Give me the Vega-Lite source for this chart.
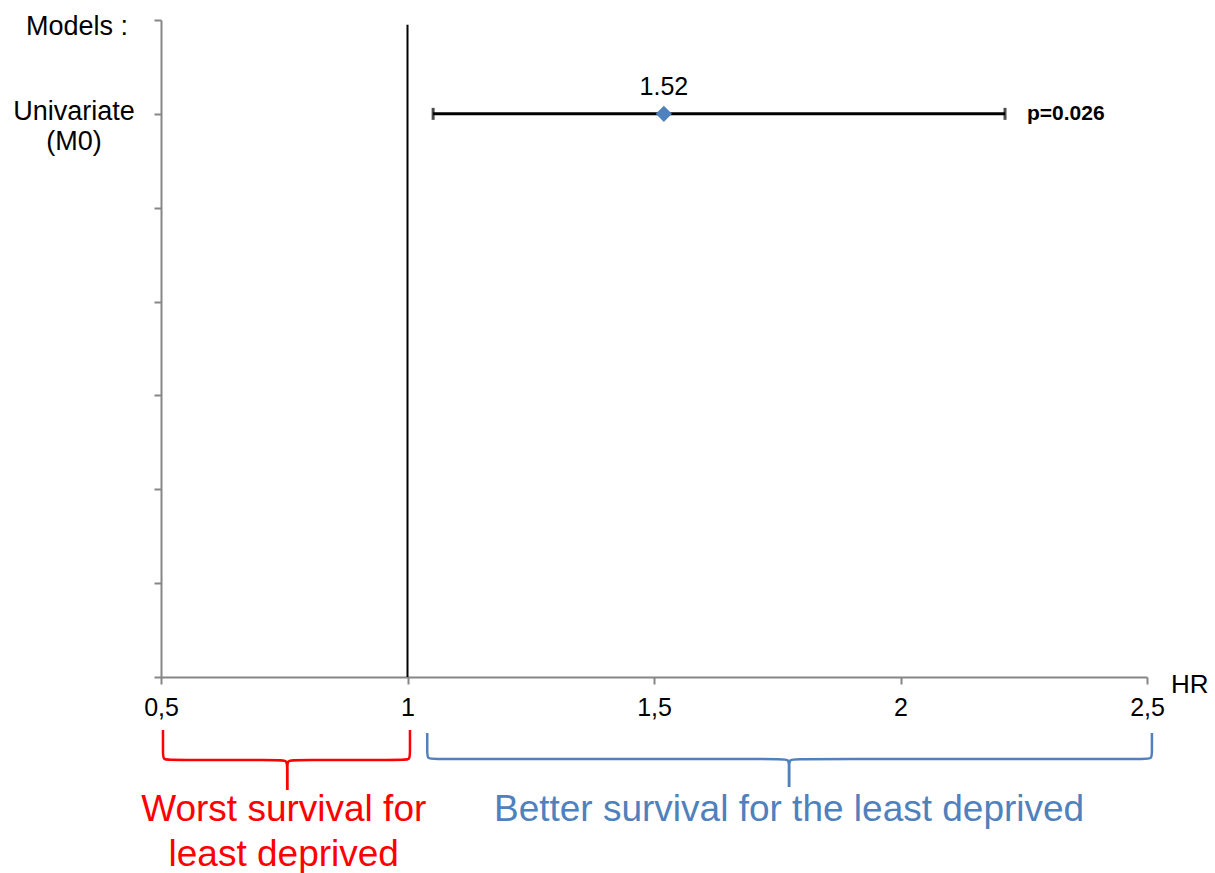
{
  "$schema": "https://vega.github.io/schema/vega-lite/v6.json",
  "width": 986,
  "height": 657,
  "autosize": {"type": "none"},
  "padding": {"left": 161, "top": 20, "right": 68, "bottom": 196},
  "background": "white",
  "config": {"view": {"stroke": null}, "font": "Liberation Sans"},
  "datasets": {
    "refline": [{"x": 1, "y0": 0, "y1": 6.95}],
    "forest": [{"model": "Univariate (M0)", "pos": 6, "hr": 1.52, "lo": 1.052, "hi": 2.212, "hrLabel": "1.52", "p": "p=0.026"}],
    "ylabels": [
      {"x": 0.3296, "y": 6.925, "t": "Models :"},
      {"x": 0.3235, "y": 6.02, "t": "Univariate"},
      {"x": 0.3235, "y": 5.70, "t": "(M0)"}
    ],
    "hr": [{"x": 2.5, "y": -0.09, "t": "HR"}],
    "braces": [
      {"side": "worst", "seg": "wl", "i": 1, "x": 0.504, "y": -0.565},
      {"side": "worst", "seg": "wl", "i": 2, "x": 0.504, "y": -0.810},
      {"side": "worst", "seg": "wl", "i": 3, "x": 0.504, "y": -0.884},
      {"side": "worst", "seg": "wl", "i": 4, "x": 0.520, "y": -0.884},
      {"side": "worst", "seg": "wl", "i": 5, "x": 0.739, "y": -0.884},
      {"side": "worst", "seg": "wl", "i": 6, "x": 0.756, "y": -0.884},
      {"side": "worst", "seg": "wl", "i": 7, "x": 0.756, "y": -0.970},
      {"side": "worst", "seg": "wl", "i": 8, "x": 0.756, "y": -1.204},
      {"side": "worst", "seg": "wr", "i": 1, "x": 0.756, "y": -1.204},
      {"side": "worst", "seg": "wr", "i": 2, "x": 0.756, "y": -0.970},
      {"side": "worst", "seg": "wr", "i": 3, "x": 0.756, "y": -0.884},
      {"side": "worst", "seg": "wr", "i": 4, "x": 0.772, "y": -0.884},
      {"side": "worst", "seg": "wr", "i": 5, "x": 0.989, "y": -0.884},
      {"side": "worst", "seg": "wr", "i": 6, "x": 1.005, "y": -0.884},
      {"side": "worst", "seg": "wr", "i": 7, "x": 1.005, "y": -0.810},
      {"side": "worst", "seg": "wr", "i": 8, "x": 1.005, "y": -0.565},
      {"side": "better", "seg": "bl", "i": 1, "x": 1.040, "y": -0.597},
      {"side": "better", "seg": "bl", "i": 2, "x": 1.040, "y": -0.799},
      {"side": "better", "seg": "bl", "i": 3, "x": 1.040, "y": -0.874},
      {"side": "better", "seg": "bl", "i": 4, "x": 1.056, "y": -0.874},
      {"side": "better", "seg": "bl", "i": 5, "x": 1.758, "y": -0.874},
      {"side": "better", "seg": "bl", "i": 6, "x": 1.774, "y": -0.874},
      {"side": "better", "seg": "bl", "i": 7, "x": 1.774, "y": -0.959},
      {"side": "better", "seg": "bl", "i": 8, "x": 1.774, "y": -1.172},
      {"side": "better", "seg": "br", "i": 1, "x": 1.774, "y": -1.172},
      {"side": "better", "seg": "br", "i": 2, "x": 1.774, "y": -0.959},
      {"side": "better", "seg": "br", "i": 3, "x": 1.774, "y": -0.874},
      {"side": "better", "seg": "br", "i": 4, "x": 1.790, "y": -0.874},
      {"side": "better", "seg": "br", "i": 5, "x": 2.494, "y": -0.874},
      {"side": "better", "seg": "br", "i": 6, "x": 2.510, "y": -0.874},
      {"side": "better", "seg": "br", "i": 7, "x": 2.510, "y": -0.799},
      {"side": "better", "seg": "br", "i": 8, "x": 2.510, "y": -0.597}
    ],
    "notes": [
      {"side": "worst", "x": 0.749, "y": -1.42, "t": "Worst survival for"},
      {"side": "worst", "x": 0.749, "y": -1.90, "t": "least deprived"},
      {"side": "better", "x": 1.774, "y": -1.42, "t": "Better survival for the least deprived"}
    ]
  },
  "layer": [
    {
      "data": {"name": "refline"},
      "mark": {"type": "rule", "color": "black", "strokeWidth": 2},
      "encoding": {
        "x": {
          "field": "x", "type": "quantitative", "title": null,
          "scale": {"domain": [0.5, 2.5], "nice": false, "zero": false},
          "axis": {
            "title": null, "values": [0.5, 1, 1.5, 2, 2.5], "grid": false,
            "domainColor": "#868686", "domainWidth": 2, "tickColor": "#868686", "tickWidth": 2, "tickSize": 7,
            "labelFontSize": 25, "labelColor": "black", "labelFont": "Liberation Sans", "labelPadding": 11,
            "labelFlush": false, "labelOverlap": false,
            "labelExpr": "replace(format(datum.value, '~g'), '.', ',')"
          }
        },
        "y": {
          "field": "y0", "type": "quantitative", "title": null,
          "scale": {"domain": [0, 7], "nice": false, "zero": false},
          "axis": {
            "title": null, "values": [0, 1, 2, 3, 4, 5, 6, 7], "grid": false, "labels": false,
            "domainColor": "#868686", "domainWidth": 2, "tickColor": "#868686", "tickWidth": 2, "tickSize": 7
          }
        },
        "y2": {"field": "y1"}
      }
    },
    {
      "data": {"name": "braces"},
      "mark": {"type": "line", "interpolate": "basis", "strokeWidth": 2.5},
      "encoding": {
        "x": {"field": "x", "type": "quantitative", "title": null},
        "y": {"field": "y", "type": "quantitative", "title": null},
        "detail": {"field": "seg"},
        "order": {"field": "i", "type": "quantitative"},
        "color": {"field": "side", "type": "nominal", "scale": {"domain": ["worst", "better"], "range": ["#FF0000", "#4F81BD"]}, "legend": null}
      }
    },
    {
      "data": {"name": "notes"},
      "mark": {"type": "text", "fontSize": 37, "align": "center", "baseline": "middle", "font": "Liberation Sans"},
      "encoding": {
        "x": {"field": "x", "type": "quantitative", "title": null},
        "y": {"field": "y", "type": "quantitative", "title": null},
        "text": {"field": "t"},
        "color": {"field": "side", "type": "nominal", "scale": {"domain": ["worst", "better"], "range": ["#FF0000", "#4F81BD"]}, "legend": null}
      }
    },
    {
      "data": {"name": "forest"},
      "mark": {"type": "rule", "color": "black", "strokeWidth": 3},
      "encoding": {
        "x": {"field": "lo", "type": "quantitative", "title": null},
        "x2": {"field": "hi"},
        "y": {"field": "pos", "type": "quantitative", "title": null}
      }
    },
    {
      "data": {"name": "forest"},
      "mark": {"type": "tick", "color": "black", "orient": "vertical", "size": 12, "thickness": 3},
      "encoding": {
        "x": {"field": "lo", "type": "quantitative", "title": null},
        "y": {"field": "pos", "type": "quantitative", "title": null}
      }
    },
    {
      "data": {"name": "forest"},
      "mark": {"type": "tick", "color": "black", "orient": "vertical", "size": 12, "thickness": 3},
      "encoding": {
        "x": {"field": "hi", "type": "quantitative", "title": null},
        "y": {"field": "pos", "type": "quantitative", "title": null}
      }
    },
    {
      "data": {"name": "forest"},
      "mark": {"type": "point", "shape": "diamond", "filled": true, "color": "#4F81BD", "size": 260, "opacity": 1},
      "encoding": {
        "x": {"field": "hr", "type": "quantitative", "title": null},
        "y": {"field": "pos", "type": "quantitative", "title": null}
      }
    },
    {
      "data": {"name": "forest"},
      "mark": {"type": "text", "fontSize": 25, "align": "center", "baseline": "middle", "dy": -27, "color": "black"},
      "encoding": {
        "x": {"field": "hr", "type": "quantitative", "title": null},
        "y": {"field": "pos", "type": "quantitative", "title": null},
        "text": {"field": "hrLabel"}
      }
    },
    {
      "data": {"name": "forest"},
      "mark": {"type": "text", "fontSize": 21, "fontWeight": "bold", "align": "left", "baseline": "middle", "dx": 22, "color": "black"},
      "encoding": {
        "x": {"field": "hi", "type": "quantitative", "title": null},
        "y": {"field": "pos", "type": "quantitative", "title": null},
        "text": {"field": "p"}
      }
    },
    {
      "data": {"name": "ylabels"},
      "mark": {"type": "text", "fontSize": 27, "align": "center", "baseline": "middle", "color": "black"},
      "encoding": {
        "x": {"field": "x", "type": "quantitative", "title": null},
        "y": {"field": "y", "type": "quantitative", "title": null},
        "text": {"field": "t"}
      }
    },
    {
      "data": {"name": "hr"},
      "mark": {"type": "text", "fontSize": 26, "align": "left", "baseline": "middle", "dx": 24, "color": "black"},
      "encoding": {
        "x": {"field": "x", "type": "quantitative", "title": null},
        "y": {"field": "y", "type": "quantitative", "title": null},
        "text": {"field": "t"}
      }
    }
  ]
}
